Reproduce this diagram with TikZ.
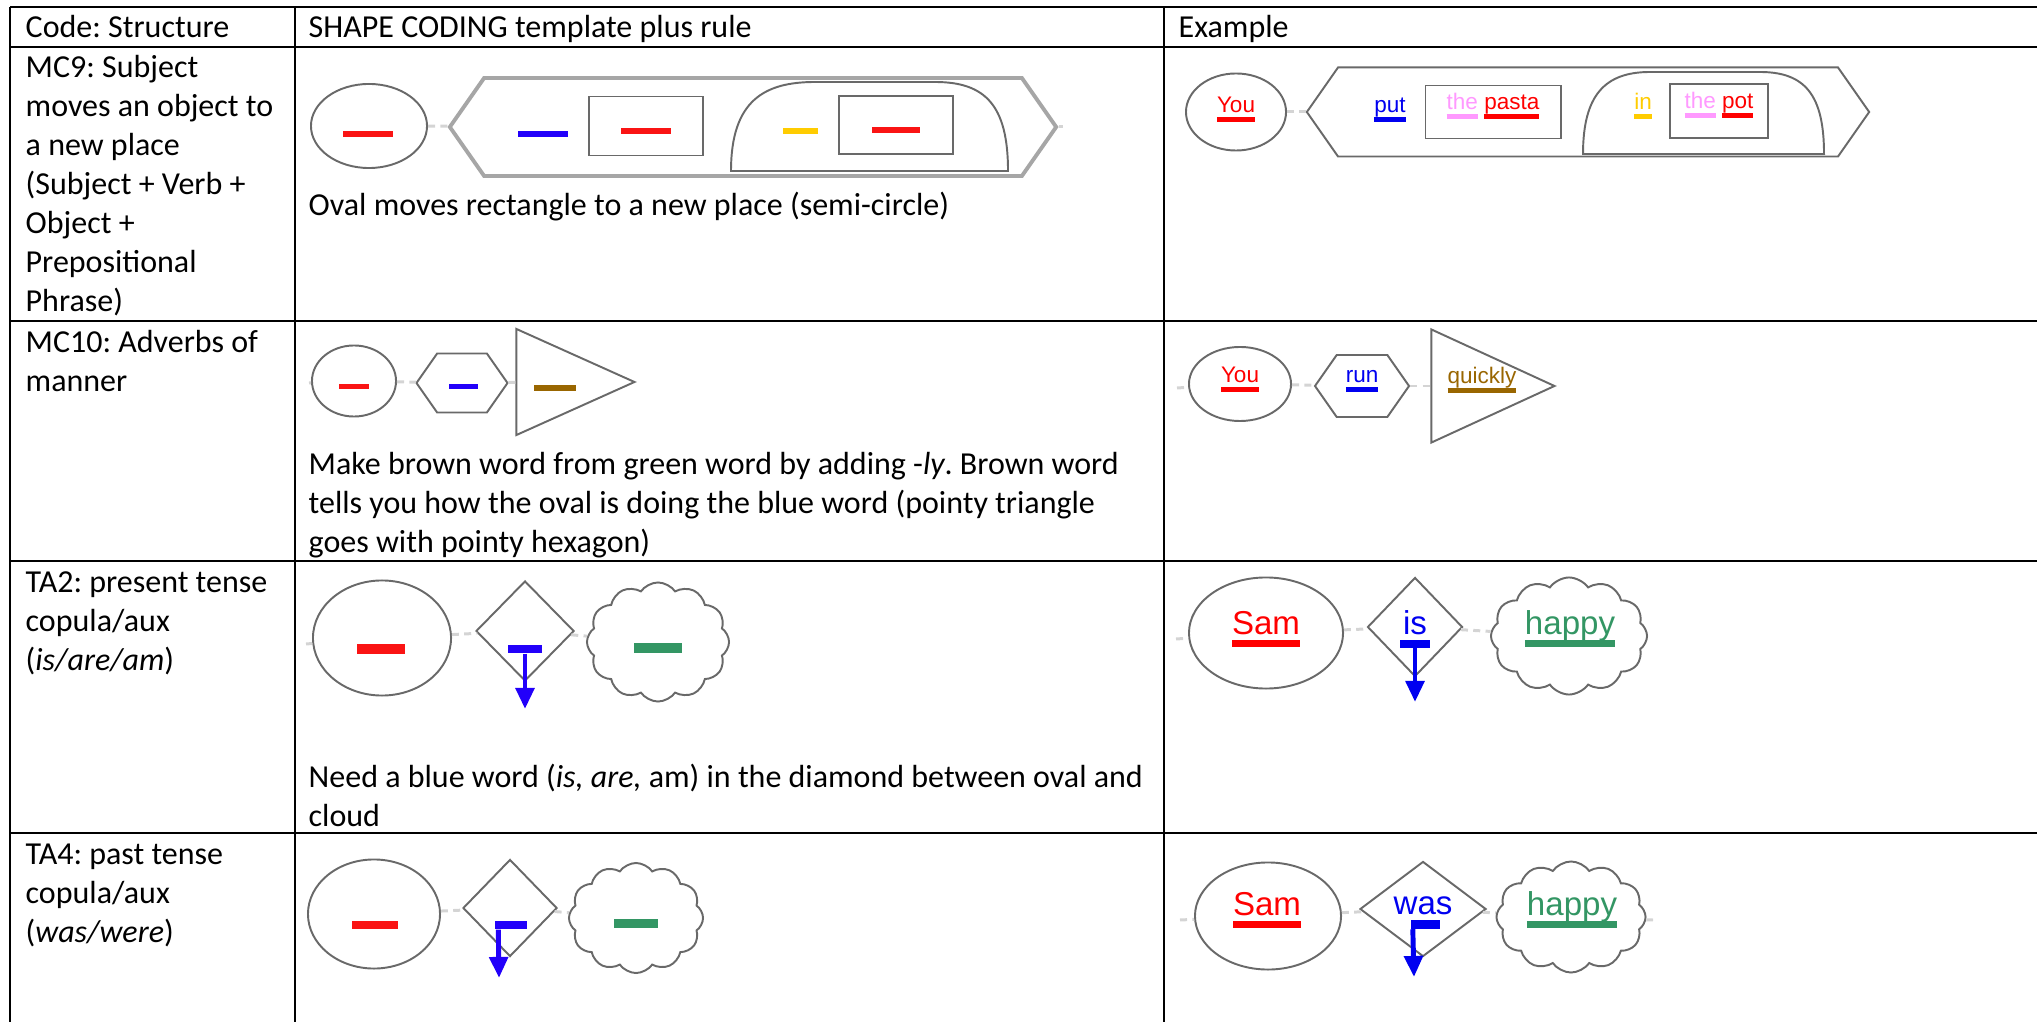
\documentclass[tikz,border=0pt]{standalone}
\usepackage{fontspec}
\setmainfont{Carlito}
\newfontfamily\exfont{Liberation Sans}
\usetikzlibrary{shapes.geometric,shapes.symbols,arrows.meta}
\frenchspacing

\definecolor{wred}{RGB}{255,0,0}
\definecolor{tred}{RGB}{250,20,20}
\definecolor{wblue}{RGB}{0,0,240}
\definecolor{tblue}{RGB}{34,0,250}
\definecolor{wbrown}{RGB}{153,102,0}
\definecolor{wgreen}{RGB}{51,150,100}
\definecolor{wgold}{RGB}{255,204,0}
\definecolor{wpink}{RGB}{255,153,255}
\definecolor{shapegray}{RGB}{105,105,105}
\definecolor{linkgray}{RGB}{212,212,212}

% coloured word with a bar under it
\newcommand{\uword}[2]{\setbox0\hbox{#2}\textcolor{#1}{\rlap{\rule[-0.4em]{\wd0}{0.21em}}\box0}}

\tikzset{
  gridline/.style={line width=0.6pt},
  celltext/.style={anchor=base west, inner sep=0pt, font=\fontsize{9.1}{11.1}\selectfont},
  shapeline/.style={draw=shapegray, line width=0.55pt, fill=white, inner sep=0pt},
  oval/.style={shapeline, ellipse},
  wordbox/.style={shapeline, rectangle},
  gem/.style={shapeline, diamond},
  puff/.style={shapeline, cloud, cloud puffs=12, cloud puff arc=110, cloud ignores aspect},
  pointy/.style={shapeline, signal, signal to=west and east, signal pointer angle=110},
  wedge/.style={shapeline, isosceles triangle, isosceles triangle stretches, anchor=apex},
  link/.style={draw=linkgray, line width=0.85pt, dash pattern=on 2pt off 1.5pt},
  tbar/.style={fill=#1, inner sep=0pt},
  smallword/.style={anchor=base, inner sep=0pt, font=\exfont\fontsize{6.4}{7.7}\selectfont},
  bigword/.style={anchor=base, inner sep=0pt, font=\exfont\fontsize{9.4}{11.3}\selectfont},
  downarrow/.style={draw=#1, line width=1.4pt, -{Triangle[width=5.2pt,length=6pt]}}
}

\begin{document}
\begin{tikzpicture}[x=0.01cm, y=-0.01cm]
\useasboundingbox (0,0) rectangle (2037,1022);

% table grid
\foreach \y in {7,47,321,561,833} \draw[gridline] (10,\y) -- (2037,\y);
\foreach \x in {10,295,1164} \draw[gridline] (\x,7) -- (\x,1022);

% header
\node[celltext] (headcode) at (25,38) {Code: Structure};
\node[celltext] (headrule) at (308,38) {SHAPE CODING template plus rule};
\node[celltext] (headex) at (1178,38) {Example};

% first column
\foreach \t [count=\i from 0] in {MC9: Subject, moves an object to, a new place, {(Subject + Verb +}, Object +, Prepositional, {Phrase)}}
  \node[celltext] (codeA\i) at (25,78+39*\i) {\t};
\foreach \t [count=\i from 0] in {MC10: Adverbs of, manner}
  \node[celltext] (codeB\i) at (25,353+39*\i) {\t};
\foreach \t [count=\i from 0] in {TA2: present tense, copula/aux, {(\textit{is/are/am})}}
  \node[celltext] (codeC\i) at (25,592+39*\i) {\t};
\foreach \t [count=\i from 0] in {TA4: past tense, copula/aux, {(\textit{was/were})}}
  \node[celltext] (codeD\i) at (25,864+39*\i) {\t};

% MC9 template
\node[oval, minimum width=1.16cm, minimum height=.84cm] (subjA) at (369,126) {};
\node[pointy, draw=gray!70, line width=1.1pt, minimum width=6.06cm, minimum height=.98cm] (verbA) at (753,127) {};
\draw[shapeline] (731,171) .. controls (731,100) and (765,82) .. (815,82) -- (935,82) .. controls (985,82) and (1008,105) .. (1008,171) -- cycle;
\node[wordbox, minimum width=1.14cm, minimum height=.59cm] (objA) at (646,126) {};
\node[wordbox, minimum width=1.14cm, minimum height=.58cm] (pobjA) at (896,125) {};
\node[tbar=tred, minimum width=.49cm, minimum height=.06cm] (subjwA) at (368,134) {};
\node[tbar=tblue, minimum width=.49cm, minimum height=.06cm] (verbwA) at (543,134) {};
\node[tbar=tred, minimum width=.49cm, minimum height=.06cm] (objwA) at (646,131) {};
\node[tbar=wgold, minimum width=.35cm, minimum height=.06cm] (prepwA) at (800,131) {};
\node[tbar=tred, minimum width=.48cm, minimum height=.06cm] (pobjwA) at (896,130) {};
\coordinate (endA) at (1063,127);
\draw[link] (subjA) -- (verbA);
\draw[link] (verbA) -- (endA);
\node[celltext] (ruleA) at (308,216) {Oval moves rectangle to a new place (semi-circle)};

% MC9 example
\node[oval, minimum width=1cm, minimum height=.77cm] (subjE) at (1236,112) {};
\node[pointy, minimum width=5.62cm, minimum height=.89cm] (verbE) at (1588,112) {};
\draw[shapeline] (1583,154) .. controls (1583,95) and (1605,72) .. (1650,72) -- (1760,72) .. controls (1805,72) and (1824,95) .. (1824,154) -- cycle;
\node[wordbox, minimum width=1.35cm, minimum height=.53cm] (objE) at (1493,112) {};
\node[wordbox, minimum width=.98cm, minimum height=.54cm] (pobjE) at (1719,111) {};
\node[smallword] (subjtE) at (1236,113) {\uword{wred}{You}};
\node[smallword] (verbtE) at (1390,113) {\uword{wblue}{put}};
\node[smallword] (objtE) at (1493,110) {\uword{wpink}{the} \uword{wred}{pasta}};
\node[smallword] (preptE) at (1643,110) {\uword{wgold}{in}};
\node[smallword] (pobjtE) at (1719,109) {\uword{wpink}{the} \uword{wred}{pot}};
\draw[link] (subjE) -- (verbE);

% MC10 template
\coordinate (startB) at (309,383);
\node[oval, minimum width=.84cm, minimum height=.71cm] (subjB) at (354,381) {};
\node[pointy, minimum width=.91cm, minimum height=.59cm] (verbB) at (462,383) {};
\node[wedge, minimum width=1.06cm, minimum height=1.18cm] (advB) at (637,382) {};
\node[tbar=tred, minimum width=.29cm, minimum height=.05cm] (subjwB) at (354,387) {};
\node[tbar=tblue, minimum width=.29cm, minimum height=.05cm] (verbwB) at (463,387) {};
\node[tbar=wbrown, minimum width=.41cm, minimum height=.06cm] (advwB) at (555,388) {};
\draw[link] (startB) -- (subjB);
\draw[link] (subjB) -- (verbB);
\draw[link] (verbB) -- (advB);
\foreach \t [count=\i from 0] in {Make brown word from green word by adding -\textit{ly}. Brown word, {tells you how the oval is doing the blue word (pointy triangle}, {goes with pointy hexagon)}}
  \node[celltext] (ruleB\i) at (308,475+39*\i) {\t};

% MC10 example
\coordinate (startF) at (1177,388);
\node[oval, minimum width=1.02cm, minimum height=.74cm] (subjF) at (1240,384) {};
\node[pointy, minimum width=.94cm, minimum height=.62cm] (verbF) at (1362,386) {};
\node[wedge, minimum width=1.13cm, minimum height=1.23cm] (advF) at (1557,386) {};
\node[smallword] (subjtF) at (1240,383) {\uword{wred}{You}};
\node[smallword] (verbtF) at (1362,383) {\uword{wblue}{run}};
\node[smallword] (advtF) at (1482,384) {\uword{wbrown}{quickly}};
\draw[link] (startF) -- (subjF);
\draw[link] (subjF) -- (verbF);
\draw[link] (verbF) -- (advF);

% TA2 template
\coordinate (startC) at (306,644);
\node[oval, minimum width=1.38cm, minimum height=1.15cm] (subjC) at (382,638) {};
\node[gem, minimum width=.98cm, minimum height=1cm] (auxC) at (525,631) {};
\node[puff, minimum width=1.42cm, minimum height=1.19cm] (compC) at (658,642) {};
\node[tbar=tred, minimum width=.47cm, minimum height=.09cm] (subjwC) at (381,649) {};
\node[tbar=tblue, minimum width=.34cm, minimum height=.08cm] (auxwC) at (525,649) {};
\node[tbar=wgreen, minimum width=.48cm, minimum height=.09cm] (compwC) at (658,648) {};
\coordinate (tipC) at (525,709);
\draw[downarrow=tblue] (auxwC) -- (tipC);
\draw[link] (startC) -- (subjC);
\draw[link] (subjC) -- (auxC);
\draw[link] (auxC) -- (compC);
\foreach \t [count=\i from 0] in {{Need a blue word (\textit{is, are,} am) in the diamond between oval and}, cloud}
  \node[celltext] (ruleC\i) at (308,787+39*\i) {\t};

% TA2 example
\coordinate (startG) at (1176,639);
\node[oval, minimum width=1.54cm, minimum height=1.11cm] (subjG) at (1266,633) {};
\node[gem, minimum width=.95cm, minimum height=.99cm] (auxG) at (1415,627) {};
\node[puff, minimum width=1.56cm, minimum height=1.17cm] (compG) at (1569,636) {};
\node[bigword] (subjtG) at (1266,634) {\uword{wred}{Sam}};
\node[bigword] (auxtG) at (1415,634) {\textcolor{wblue}{is}};
\node[bigword] (comptG) at (1570,634) {\uword{wgreen}{happy}};
\node[tbar=wblue, minimum width=.3cm, minimum height=.07cm] (auxwG) at (1415,644) {};
\coordinate (tipG) at (1415,702);
\draw[downarrow=wblue] (auxwG) -- (tipG);
\draw[link] (startG) -- (subjG);
\draw[link] (subjG) -- (auxG);
\draw[link] (auxG) -- (compG);

% TA4 template
\node[oval, minimum width=1.32cm, minimum height=1.09cm] (subjD) at (374,914) {};
\node[gem, minimum width=.94cm, minimum height=.97cm] (auxD) at (510,908) {};
\node[puff, minimum width=1.34cm, minimum height=1.1cm] (compD) at (636,918) {};
\node[tbar=tred, minimum width=.45cm, minimum height=.08cm] (subjwD) at (375,925) {};
\node[tbar=tblue, minimum width=.32cm, minimum height=.08cm] (auxwD) at (511,925) {};
\node[tbar=wgreen, minimum width=.44cm, minimum height=.09cm] (compwD) at (636,923) {};
\coordinate (tipD) at (499,978);
\draw[downarrow=tblue] ([xshift=.04cm]auxwD.south west) -- (tipD);
\draw[link] (subjD) -- (auxD);
\draw[link] (auxD) -- (compD);

% TA4 example
\coordinate (startH) at (1180,920);
\coordinate (endH) at (1653,920);
\node[oval, minimum width=1.46cm, minimum height=1.07cm] (subjH) at (1268,916) {};
\node[gem, minimum width=1.26cm, minimum height=.95cm] (auxH) at (1423,909) {};
\node[puff, minimum width=1.49cm, minimum height=1.11cm] (compH) at (1571,917) {};
\node[bigword] (subjtH) at (1267,915) {\uword{wred}{Sam}};
\node[bigword] (auxtH) at (1423,914) {\textcolor{wblue}{was}};
\node[bigword] (comptH) at (1572,915) {\uword{wgreen}{happy}};
\node[tbar=wblue, minimum width=.29cm, minimum height=.09cm] (auxwH) at (1425,924) {};
\coordinate (tipH) at (1414,977);
\draw[downarrow=wblue] ([xshift=.03cm]auxwH.south west) -- (tipH);
\draw[link] (startH) -- (subjH);
\draw[link] (subjH) -- (auxH);
\draw[link] (auxH) -- (compH);
\draw[link] (compH) -- (endH);
\end{tikzpicture}
\end{document}
